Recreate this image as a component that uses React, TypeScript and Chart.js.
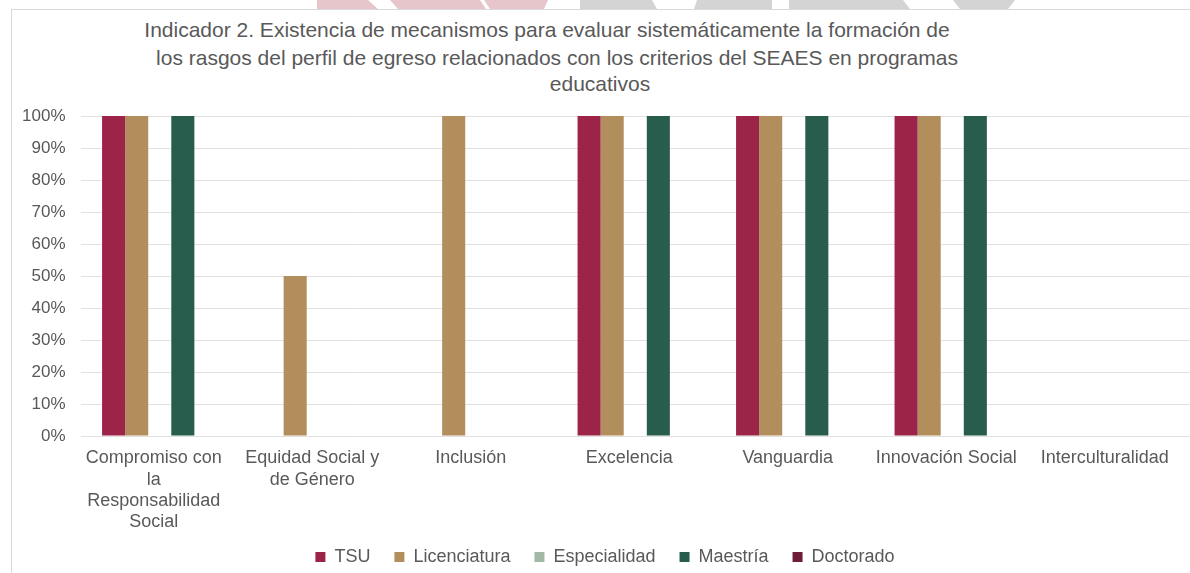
import React, { useEffect, useRef } from "react";
import { Chart, registerables } from "chart.js";

Chart.register(...registerables);

const categories: (string | string[])[] = [
  ["Compromiso con", "la", "Responsabilidad", "Social"],
  ["Equidad Social y", "de Género"],
  "Inclusión",
  "Excelencia",
  "Vanguardia",
  "Innovación Social",
  "Interculturalidad",
];

const seriesNames = ["TSU", "Licenciatura", "Especialidad", "Maestría", "Doctorado"];
const seriesColors = ["#9d2449", "#b38e5d", "#a3b9a8", "#285c4d", "#6f1d37"];

const tsu = [100, 0, 0, 100, 100, 100, 0];
const licenciatura = [100, 50, 100, 100, 100, 100, 0];
const especialidad = [0, 0, 0, 0, 0, 0, 0];
const maestria = [100, 0, 0, 100, 100, 100, 0];
const doctorado = [0, 0, 0, 0, 0, 0, 0];

const yTicks = [0, 10, 20, 30, 40, 50, 60, 70, 80, 90, 100];

const titleLines = [
  "Indicador 2. Existencia de mecanismos para evaluar sistemáticamente la formación de",
  "los rasgos del perfil de egreso relacionados con los criterios del SEAES en programas",
  "educativos",
];

const FONT = "'Liberation Sans', Arial, sans-serif";
const TEXT = "#595959";

const shapes: { color: string; pts: string }[] = [
  { color: "#e6c5cb", pts: "317px 0, 368px 0, 378px 9px, 317px 9px" },
  { color: "#e6c5cb", pts: "390px 0, 480px 0, 486px 9px, 398px 9px" },
  { color: "#e6c5cb", pts: "484px 0, 548px 0, 544px 9px, 490px 9px" },
  { color: "#d4d4d4", pts: "580px 0, 652px 0, 657px 9px, 580px 9px" },
  { color: "#d4d4d4", pts: "697px 0, 772px 0, 772px 9px, 694px 9px" },
  { color: "#d4d4d4", pts: "789px 0, 903px 0, 910px 9px, 789px 9px" },
  { color: "#d4d4d4", pts: "953px 0, 1015px 0, 1008px 9px, 960px 9px" },
];

const layoutTweak = {
  id: "layoutTweak",
  afterLayout(chart: any) {
    if (chart.legend) {
      chart.legend.left += 10;
      chart.legend.right += 10;
    }
    if (chart.scales && chart.scales.x) {
      chart.scales.x.bottom = chart.height;
    }
  },
};

export default function App() {
  const ref = useRef<HTMLCanvasElement | null>(null);

  useEffect(() => {
    if (!ref.current) return;
    const data = [tsu, licenciatura, especialidad, maestria, doctorado];
    const chart = new Chart(ref.current, {
      type: "bar",
      data: {
        labels: categories,
        datasets: seriesNames.map((name, i) => ({
          label: name,
          data: data[i],
          backgroundColor: seriesColors[i],
          borderWidth: 0,
          categoryPercentage: 0.728,
          barPercentage: 1,
        })),
      },
      plugins: [layoutTweak],
      options: {
        responsive: false,
        animation: false,
        devicePixelRatio: 1,
        layout: { padding: { top: 116, left: 0, right: 0, bottom: -3 } },
        plugins: {
          title: { display: false },
          tooltip: { enabled: false },
          legend: {
            position: "bottom",
            labels: {
              boxWidth: 10,
              boxHeight: 10,
              padding: 24,
              color: TEXT,
              font: { family: FONT, size: 18 },
            },
          },
        },
        scales: {
          x: {
            grid: { display: false, drawTicks: false },
            border: { display: false },
            ticks: {
              color: TEXT,
              font: { family: FONT, size: 18, lineHeight: 1.17 },
              padding: 12,
              labelOffset: -6,
              maxRotation: 0,
              autoSkip: false,
            },
            afterFit: (s: any) => {
              s.height = 88;
            },
          },
          y: {
            min: 0,
            max: 100,
            afterBuildTicks: (s: any) => {
              s.ticks = yTicks.map((v) => ({ value: v }));
            },
            grid: { color: "#e0e0e0", drawTicks: false, lineWidth: 1 },
            border: { display: false },
            ticks: {
              color: TEXT,
              font: { family: FONT, size: 17 },
              padding: 15,
              callback: (v: any) => v + "%",
            },
            afterFit: (s: any) => {
              s.width = 80.5;
            },
          },
        },
      },
    });
    return () => chart.destroy();
  }, []);

  const centers = [547, 557, 600];
  const tops = [17, 44.5, 71];

  return (
    <div
      style={{
        position: "fixed",
        left: 0,
        top: 0,
        width: 1190,
        height: 573,
        background: "#ffffff",
        overflow: "hidden",
      }}
    >
      {shapes.map((s, i) => (
        <div
          key={i}
          style={{
            position: "absolute",
            left: 0,
            top: 0,
            width: 1190,
            height: 9,
            background: s.color,
            clipPath: `polygon(${s.pts})`,
          }}
        />
      ))}
      <div
        style={{
          position: "absolute",
          left: 11,
          top: 9,
          width: 1190,
          height: 600,
          borderLeft: "1px solid #d9d9d9",
          borderTop: "1px solid #d9d9d9",
        }}
      />
      {titleLines.map((t, i) => (
        <div
          key={i}
          style={{
            position: "absolute",
            left: centers[i] - 500,
            width: 1000,
            top: tops[i],
            textAlign: "center",
            fontFamily: FONT,
            fontSize: 21,
            lineHeight: "26px",
            color: TEXT,
            whiteSpace: "nowrap",
          }}
        >
          {t}
        </div>
      ))}
      <canvas
        ref={ref}
        width={1190}
        height={573}
        style={{ position: "absolute", left: 0, top: 0, width: 1190, height: 573 }}
      />
    </div>
  );
}
